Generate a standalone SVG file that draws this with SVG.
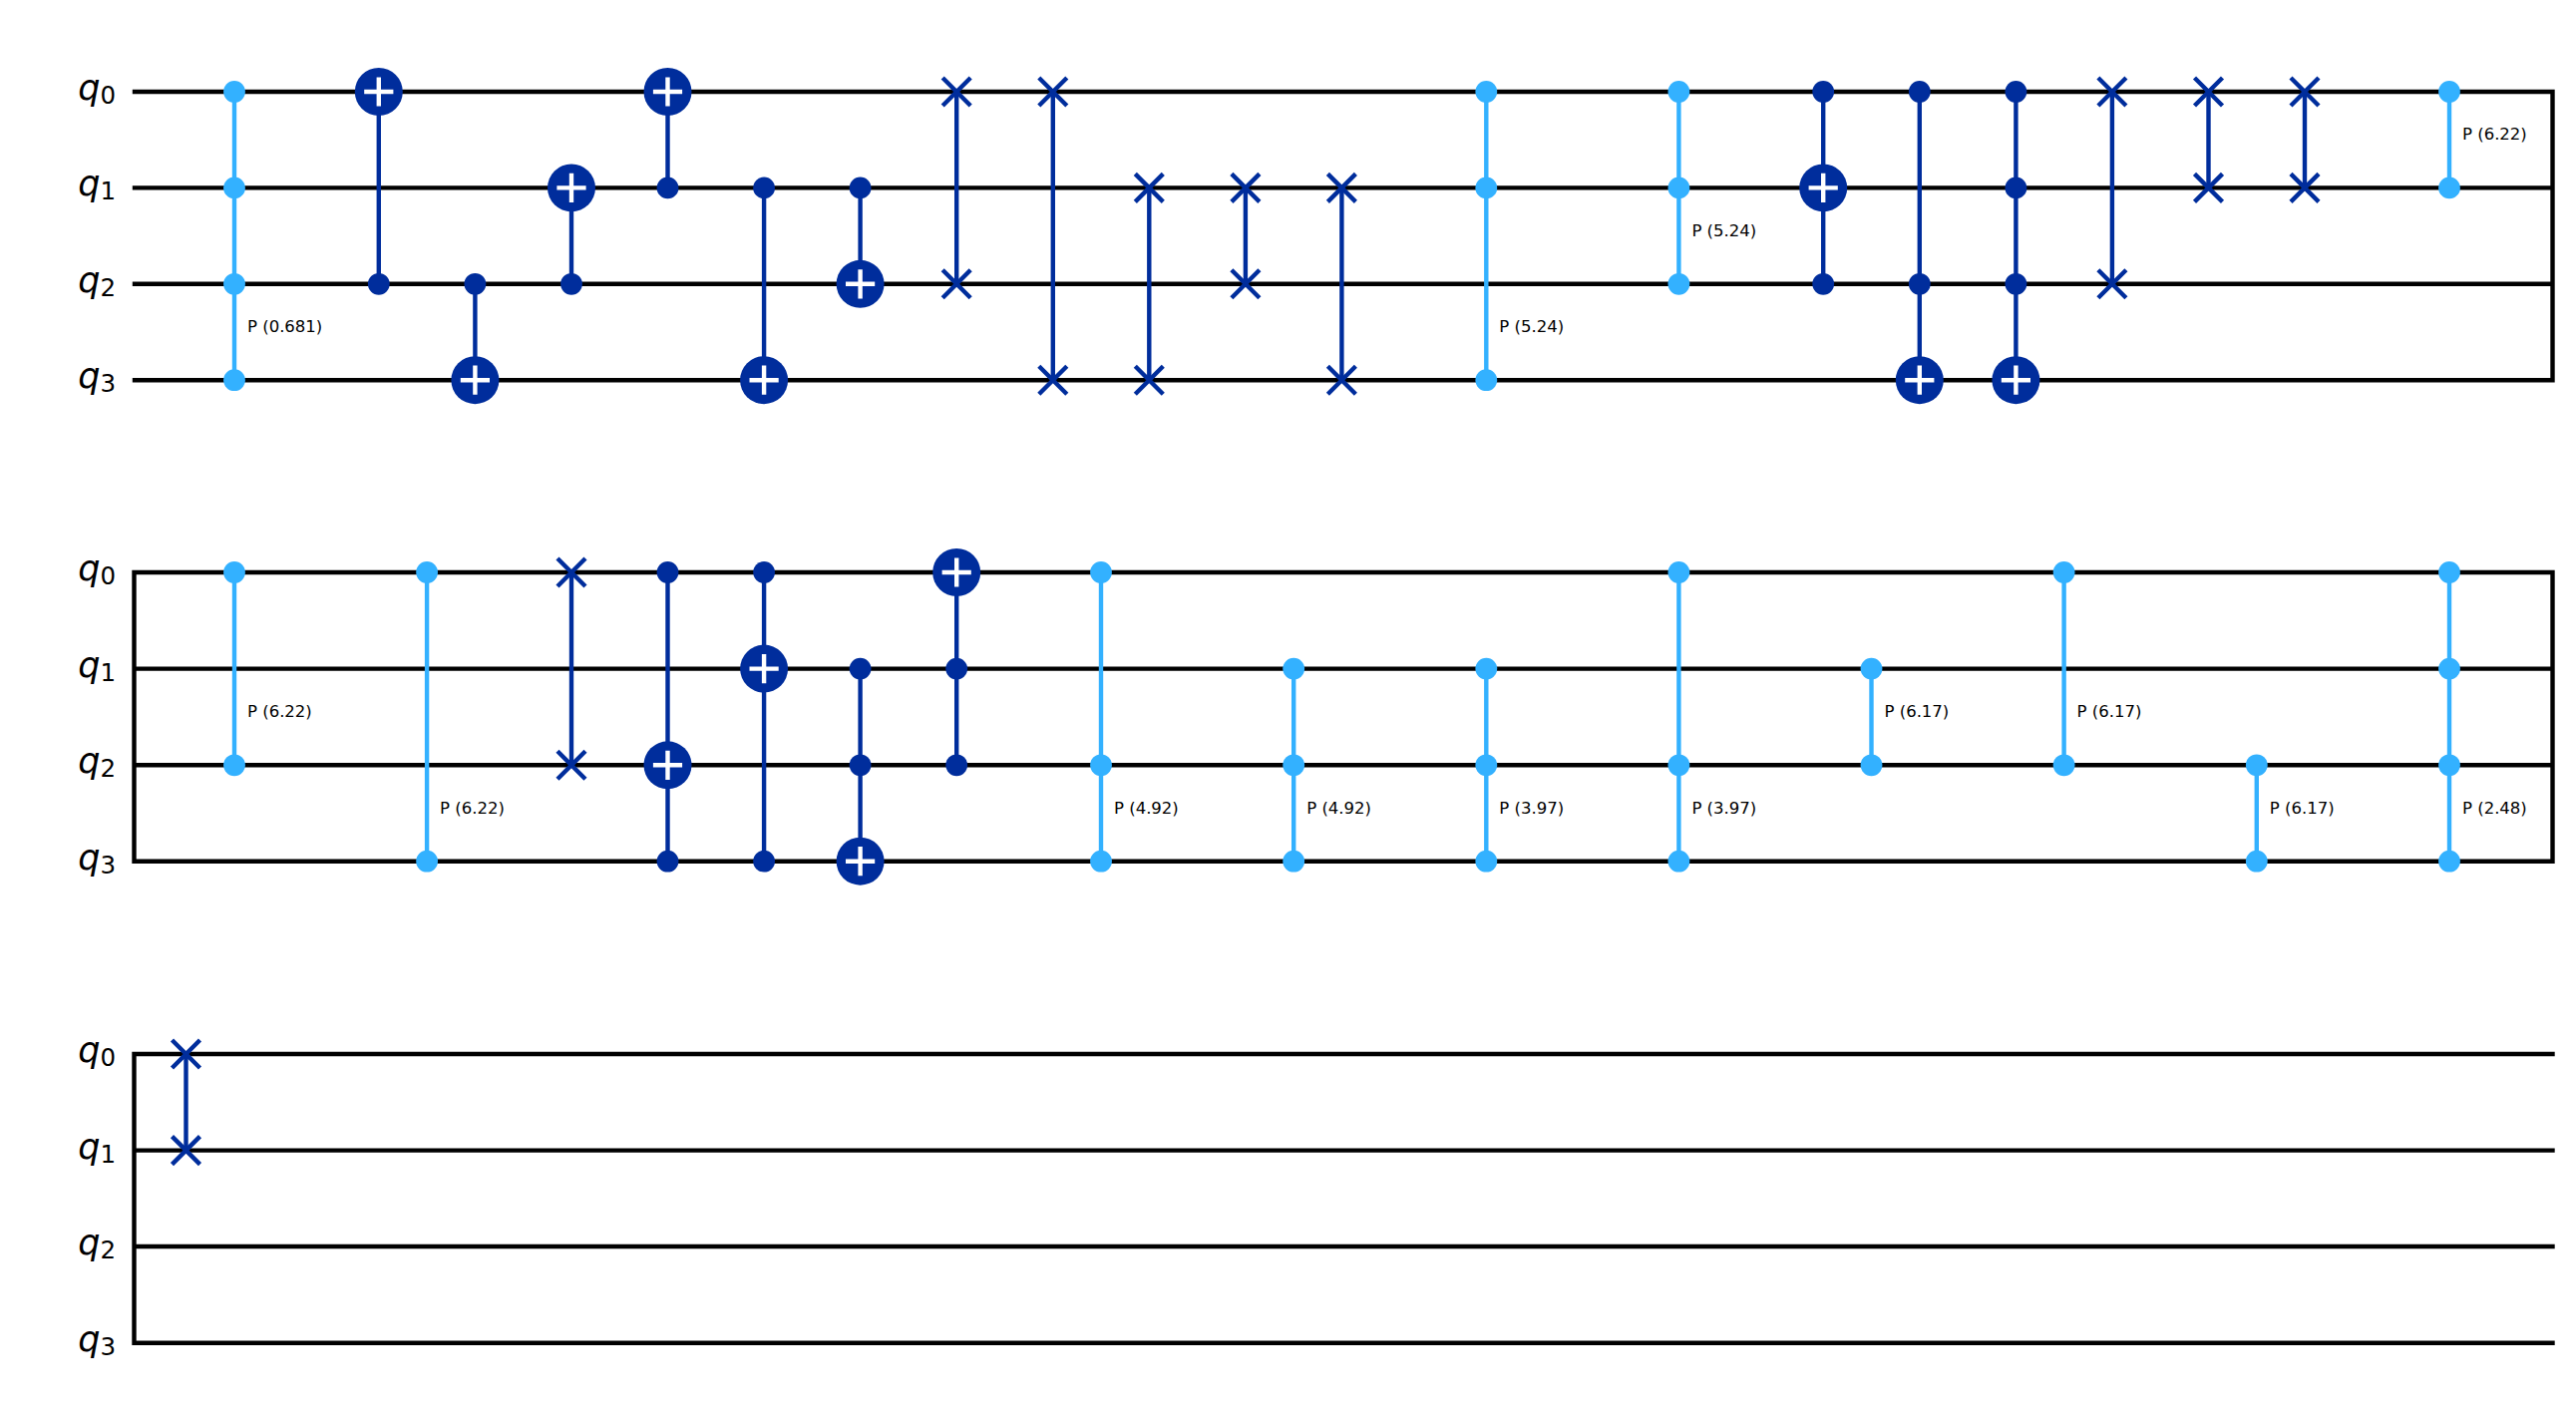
<svg xmlns="http://www.w3.org/2000/svg" width="2583" height="1420" viewBox="0 0 2583 1420">
<style>
.w{stroke:#000;stroke-width:4.4;fill:none;stroke-linecap:square}
.d{stroke:#002D9C;stroke-width:4.4;fill:none}
.l{stroke:#33B1FF;stroke-width:4.4;fill:none}
.q{font-family:"DejaVu Sans",sans-serif;font-size:35px;fill:#000;text-anchor:end}
.q .i{font-style:italic}
.q .s{font-size:24.5px}
.p{font-family:"DejaVu Sans",sans-serif;font-size:16.5px;fill:#000}
</style>
<defs>
<circle id="cd" r="10.9" fill="#002D9C"/>
<circle id="cl" r="10.9" fill="#33B1FF"/>
<g id="tg"><circle r="24" fill="#002D9C"/><path d="M-14.6 0H14.6M0 -14.6V14.6" stroke="#fff" stroke-width="4.4" fill="none"/></g>
<path id="sw" d="M-14 -14L14 14M-14 14L14 -14" stroke="#002D9C" stroke-width="4.4" fill="none"/>
</defs>
<rect width="2583" height="1420" fill="#fff"/>
<g id="connectors">
<g id="wires">
<path class="w" d="M135 92H2559.5V381.2H135M135 188.4H2559.5M135 284.8H2559.5"/>
<path class="w" d="M2559.5 574H134.5V863.7H2559.5V574M134.5 670.6H2559.5M134.5 767.3H2559.5"/>
<path class="w" d="M2559.5 1057H134.5V1346.8H2559.5M134.5 1153.6H2559.5M134.5 1250H2559.5"/>
</g>
<path class="l" d="M235 92V381.2M1490.3 92V381.2M1683.4 92V284.8M2456 92V188.4"/>
<path class="d" d="M379.8 92V284.8M476.4 284.8V381.2M573 188.4V284.8M669.5 92V188.4M766.1 188.4V381.2M862.6 188.4V284.8M959.2 92V284.8M1055.8 92V381.2M1152.3 188.4V381.2M1248.9 188.4V284.8M1345.4 188.4V381.2M1828.2 92V284.8M1924.8 92V381.2M2021.4 92V381.2M2117.9 92V284.8M2214.5 92V188.4M2311 92V188.4"/>
<path class="l" d="M235 574V767.3M428.1 574V863.7M1104 574V863.7M1297.2 670.6V863.7M1490.3 670.6V863.7M1683.4 574V863.7M1876.5 670.6V767.3M2069.6 574V767.3M2262.8 767.3V863.7M2456 574V863.7"/>
<path class="d" d="M573 574V767.3M669.5 574V863.7M766.1 574V863.7M862.6 670.6V863.7M959.2 574V767.3"/>
<path class="d" d="M186.5 1057V1153.6"/>
</g>
<g id="r1-labels">
<text class="q" x="116" y="100"><tspan class="i">q</tspan><tspan class="s" dy="4">0</tspan></text>
<text class="q" x="116" y="196.4"><tspan class="i">q</tspan><tspan class="s" dy="4">1</tspan></text>
<text class="q" x="116" y="292.8"><tspan class="i">q</tspan><tspan class="s" dy="4">2</tspan></text>
<text class="q" x="116" y="389.2"><tspan class="i">q</tspan><tspan class="s" dy="4">3</tspan></text>
</g>
<g id="r2-labels">
<text class="q" x="116" y="582"><tspan class="i">q</tspan><tspan class="s" dy="4">0</tspan></text>
<text class="q" x="116" y="678.6"><tspan class="i">q</tspan><tspan class="s" dy="4">1</tspan></text>
<text class="q" x="116" y="775.3"><tspan class="i">q</tspan><tspan class="s" dy="4">2</tspan></text>
<text class="q" x="116" y="871.7"><tspan class="i">q</tspan><tspan class="s" dy="4">3</tspan></text>
</g>
<g id="r3-labels">
<text class="q" x="116" y="1065"><tspan class="i">q</tspan><tspan class="s" dy="4">0</tspan></text>
<text class="q" x="116" y="1161.6"><tspan class="i">q</tspan><tspan class="s" dy="4">1</tspan></text>
<text class="q" x="116" y="1258"><tspan class="i">q</tspan><tspan class="s" dy="4">2</tspan></text>
<text class="q" x="116" y="1354.8"><tspan class="i">q</tspan><tspan class="s" dy="4">3</tspan></text>
</g>
<g id="r1-g1"><use href="#cl" x="235" y="92"/><use href="#cl" x="235" y="188.4"/><use href="#cl" x="235" y="284.8"/><use href="#cl" x="235" y="381.2"/><text class="p" x="248" y="333">P (0.681)</text></g>
<g id="r1-g2"><use href="#tg" x="379.8" y="92"/><use href="#cd" x="379.8" y="284.8"/></g>
<g id="r1-g3"><use href="#cd" x="476.4" y="284.8"/><use href="#tg" x="476.4" y="381.2"/></g>
<g id="r1-g4"><use href="#tg" x="573" y="188.4"/><use href="#cd" x="573" y="284.8"/></g>
<g id="r1-g5"><use href="#tg" x="669.5" y="92"/><use href="#cd" x="669.5" y="188.4"/></g>
<g id="r1-g6"><use href="#cd" x="766.1" y="188.4"/><use href="#tg" x="766.1" y="381.2"/></g>
<g id="r1-g7"><use href="#cd" x="862.6" y="188.4"/><use href="#tg" x="862.6" y="284.8"/></g>
<g id="r1-g8"><use href="#sw" x="959.2" y="92"/><use href="#sw" x="959.2" y="284.8"/></g>
<g id="r1-g9"><use href="#sw" x="1055.8" y="92"/><use href="#sw" x="1055.8" y="381.2"/></g>
<g id="r1-g10"><use href="#sw" x="1152.3" y="188.4"/><use href="#sw" x="1152.3" y="381.2"/></g>
<g id="r1-g11"><use href="#sw" x="1248.9" y="188.4"/><use href="#sw" x="1248.9" y="284.8"/></g>
<g id="r1-g12"><use href="#sw" x="1345.4" y="188.4"/><use href="#sw" x="1345.4" y="381.2"/></g>
<g id="r1-g13"><use href="#cl" x="1490.3" y="92"/><use href="#cl" x="1490.3" y="188.4"/><use href="#cl" x="1490.3" y="381.2"/><text class="p" x="1503.3" y="333">P (5.24)</text></g>
<g id="r1-g14"><use href="#cl" x="1683.4" y="92"/><use href="#cl" x="1683.4" y="188.4"/><use href="#cl" x="1683.4" y="284.8"/><text class="p" x="1696.4" y="236.6">P (5.24)</text></g>
<g id="r1-g15"><use href="#cd" x="1828.2" y="92"/><use href="#tg" x="1828.2" y="188.4"/><use href="#cd" x="1828.2" y="284.8"/></g>
<g id="r1-g16"><use href="#cd" x="1924.8" y="92"/><use href="#cd" x="1924.8" y="284.8"/><use href="#tg" x="1924.8" y="381.2"/></g>
<g id="r1-g17"><use href="#cd" x="2021.4" y="92"/><use href="#cd" x="2021.4" y="188.4"/><use href="#cd" x="2021.4" y="284.8"/><use href="#tg" x="2021.4" y="381.2"/></g>
<g id="r1-g18"><use href="#sw" x="2117.9" y="92"/><use href="#sw" x="2117.9" y="284.8"/></g>
<g id="r1-g19"><use href="#sw" x="2214.5" y="92"/><use href="#sw" x="2214.5" y="188.4"/></g>
<g id="r1-g20"><use href="#sw" x="2311" y="92"/><use href="#sw" x="2311" y="188.4"/></g>
<g id="r1-g21"><use href="#cl" x="2456" y="92"/><use href="#cl" x="2456" y="188.4"/><text class="p" x="2469" y="140.2">P (6.22)</text></g>
<g id="r2-g1"><use href="#cl" x="235" y="574"/><use href="#cl" x="235" y="767.3"/><text class="p" x="248" y="719">P (6.22)</text></g>
<g id="r2-g2"><use href="#cl" x="428.1" y="574"/><use href="#cl" x="428.1" y="863.7"/><text class="p" x="441.1" y="815.5">P (6.22)</text></g>
<g id="r2-g3"><use href="#sw" x="573" y="574"/><use href="#sw" x="573" y="767.3"/></g>
<g id="r2-g4"><use href="#cd" x="669.5" y="574"/><use href="#tg" x="669.5" y="767.3"/><use href="#cd" x="669.5" y="863.7"/></g>
<g id="r2-g5"><use href="#cd" x="766.1" y="574"/><use href="#tg" x="766.1" y="670.6"/><use href="#cd" x="766.1" y="863.7"/></g>
<g id="r2-g6"><use href="#cd" x="862.6" y="670.6"/><use href="#cd" x="862.6" y="767.3"/><use href="#tg" x="862.6" y="863.7"/></g>
<g id="r2-g7"><use href="#tg" x="959.2" y="574"/><use href="#cd" x="959.2" y="670.6"/><use href="#cd" x="959.2" y="767.3"/></g>
<g id="r2-g8"><use href="#cl" x="1104" y="574"/><use href="#cl" x="1104" y="767.3"/><use href="#cl" x="1104" y="863.7"/><text class="p" x="1117" y="815.5">P (4.92)</text></g>
<g id="r2-g9"><use href="#cl" x="1297.2" y="670.6"/><use href="#cl" x="1297.2" y="767.3"/><use href="#cl" x="1297.2" y="863.7"/><text class="p" x="1310.2" y="815.5">P (4.92)</text></g>
<g id="r2-g10"><use href="#cl" x="1490.3" y="670.6"/><use href="#cl" x="1490.3" y="767.3"/><use href="#cl" x="1490.3" y="863.7"/><text class="p" x="1503.3" y="815.5">P (3.97)</text></g>
<g id="r2-g11"><use href="#cl" x="1683.4" y="574"/><use href="#cl" x="1683.4" y="767.3"/><use href="#cl" x="1683.4" y="863.7"/><text class="p" x="1696.4" y="815.5">P (3.97)</text></g>
<g id="r2-g12"><use href="#cl" x="1876.5" y="670.6"/><use href="#cl" x="1876.5" y="767.3"/><text class="p" x="1889.5" y="719">P (6.17)</text></g>
<g id="r2-g13"><use href="#cl" x="2069.6" y="574"/><use href="#cl" x="2069.6" y="767.3"/><text class="p" x="2082.6" y="719">P (6.17)</text></g>
<g id="r2-g14"><use href="#cl" x="2262.8" y="767.3"/><use href="#cl" x="2262.8" y="863.7"/><text class="p" x="2275.8" y="815.5">P (6.17)</text></g>
<g id="r2-g15"><use href="#cl" x="2456" y="574"/><use href="#cl" x="2456" y="670.6"/><use href="#cl" x="2456" y="767.3"/><use href="#cl" x="2456" y="863.7"/><text class="p" x="2469" y="815.5">P (2.48)</text></g>
<g id="r3-g1"><use href="#sw" x="186.5" y="1057"/><use href="#sw" x="186.5" y="1153.6"/></g>
</svg>
